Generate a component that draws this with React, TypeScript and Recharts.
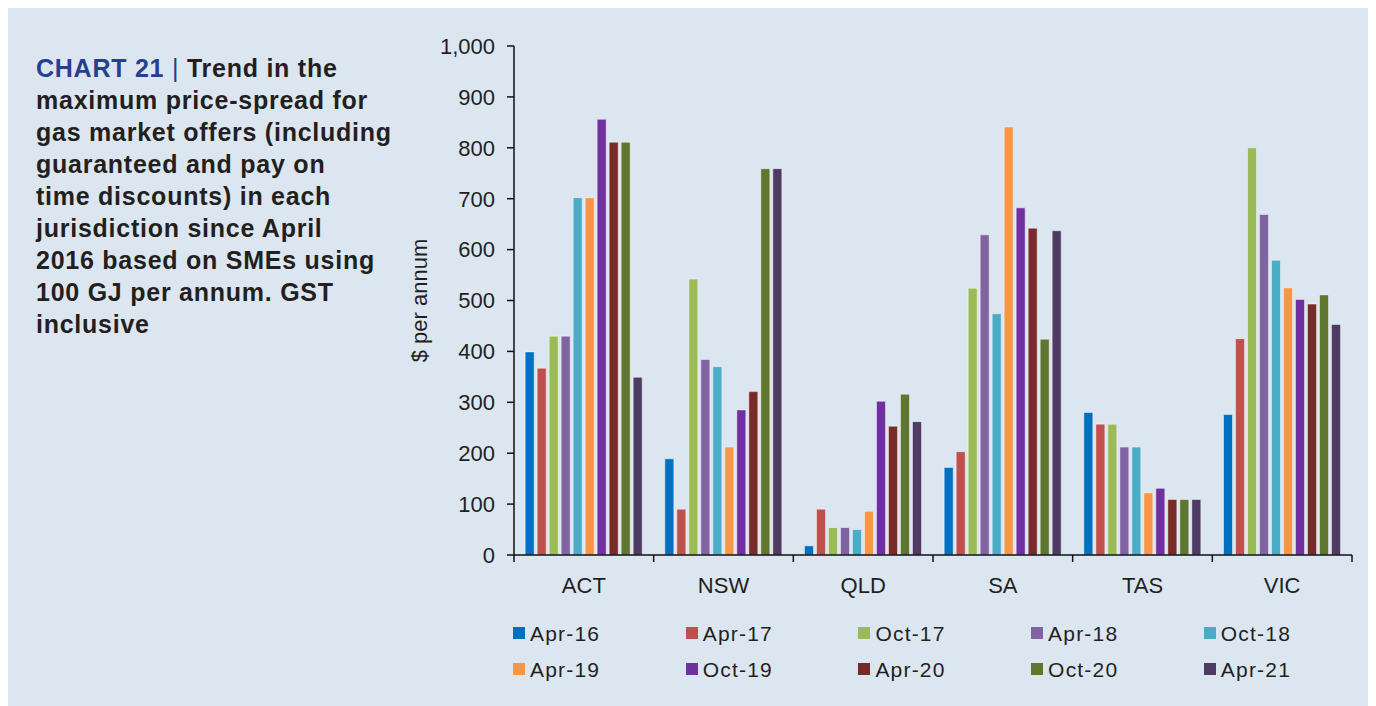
import { BarChart, Bar, XAxis, YAxis } from "recharts";

const STATES = ["ACT", "NSW", "QLD", "SA", "TAS", "VIC"];

const PERIODS = [
  "Apr-16",
  "Apr-17",
  "Oct-17",
  "Apr-18",
  "Oct-18",
  "Apr-19",
  "Oct-19",
  "Apr-20",
  "Oct-20",
  "Apr-21",
];

// one list per period, values in STATES order ($ per annum)
const APR_16 = [399, 189, 18, 172, 280, 276];
const APR_17 = [367, 90, 90, 203, 257, 425];
const OCT_17 = [430, 542, 54, 524, 257, 800];
const APR_18 = [430, 384, 54, 629, 212, 669];
const OCT_18 = [702, 370, 50, 474, 212, 579];
const APR_19 = [702, 212, 86, 841, 122, 525];
const OCT_19 = [856, 285, 302, 682, 131, 502];
const APR_20 = [811, 321, 253, 642, 109, 493];
const OCT_20 = [811, 759, 316, 424, 109, 511];
const APR_21 = [349, 759, 262, 637, 109, 453];

const Y_TICKS = [0, 100, 200, 300, 400, 500, 600, 700, 800, 900, 1000];

const SERIES_VALUES = [
  APR_16, APR_17, OCT_17, APR_18, OCT_18,
  APR_19, OCT_19, APR_20, OCT_20, APR_21,
];

const COLORS = [
  "#0070c0",
  "#c0504d",
  "#9bbb59",
  "#8064a2",
  "#4bacc6",
  "#f79646",
  "#7030a0",
  "#772c2a",
  "#5f7530",
  "#4d3b62",
];

const TITLE_LINES = [
  "maximum price-spread for",
  "gas market offers (including",
  "guaranteed and pay on",
  "time discounts) in each",
  "jurisdiction since April",
  "2016 based on SMEs using",
  "100 GJ per annum. GST",
  "inclusive",
];

const data = STATES.map((state, i) => {
  const row: Record<string, string | number> = { state };
  PERIODS.forEach((p, j) => {
    row[p] = SERIES_VALUES[j][i];
  });
  return row;
});

const FONT = '"Liberation Sans", Arial, Helvetica, sans-serif';
const INK = "#231f20";
const CHART_W = 1364;
const CHART_H = 698;
const Y_AXIS_W = 100;
const MARGIN = { top: 38, right: 20, left: 406, bottom: 111 };
const PLOT_W = CHART_W - MARGIN.left - Y_AXIS_W - MARGIN.right;
const AXIS_Y = CHART_H - MARGIN.bottom - 40;
const BAND = PLOT_W / STATES.length;

function StateTick(props: any) {
  const { x, payload, index } = props;
  const left = x - BAND / 2;
  return (
    <g>
      <line x1={left} x2={left} y1={AXIS_Y} y2={AXIS_Y + 7} stroke="#111" strokeWidth={1.5} />
      {index === STATES.length - 1 && (
        <line x1={left + BAND} x2={left + BAND} y1={AXIS_Y} y2={AXIS_Y + 7} stroke="#111" strokeWidth={1.5} />
      )}
      <text x={x} y={AXIS_Y + 38} textAnchor="middle" fill={INK} fontSize={22} fontFamily={FONT}>
        {payload.value}
      </text>
    </g>
  );
}

function YLabel(props: any) {
  const vb = props.viewBox || {};
  const cx = 419;
  const cy = (vb.y ?? MARGIN.top) + (vb.height ?? AXIS_Y - MARGIN.top) / 2;
  return (
    <text
      x={cx}
      y={cy}
      transform={`rotate(-90, ${cx}, ${cy})`}
      textAnchor="middle"
      fill={INK}
      fontSize={22}
      fontFamily={FONT}
    >
      $ per annum
    </text>
  );
}

export default function App() {
  return (
    <div
      style={{
        position: "relative",
        width: CHART_W,
        height: CHART_H,
        background: "#dce6f0",
        fontFamily: FONT,
      }}
    >
      <style>{"body{overflow:hidden}"}</style>
      <div
        style={{
          position: "absolute",
          left: 28,
          top: 44,
          fontSize: 25,
          lineHeight: "32px",
          fontWeight: 700,
          letterSpacing: 0.75,
          color: INK,
          whiteSpace: "nowrap",
        }}
      >
        <div>
          <span style={{ color: "#263f8f" }}>CHART 21 </span>
          <span style={{ color: "#263f8f", fontWeight: 400 }}>|</span> Trend in the
        </div>
        {TITLE_LINES.map((l) => (
          <div key={l}>{l}</div>
        ))}
      </div>

      <div style={{ position: "absolute", left: 0, top: 0 }}>
        <BarChart
          width={CHART_W}
          height={CHART_H}
          data={data}
          margin={MARGIN}
          barGap={3}
          barCategoryGap="8%"
        >
          <XAxis
            dataKey="state"
            height={40}
            axisLine={{ stroke: "#111", strokeWidth: 1.5 }}
            tickLine={false}
            tick={<StateTick />}
            interval={0}
          />
          <YAxis
            width={Y_AXIS_W}
            domain={[0, 1000]}
            ticks={Y_TICKS}
            tickFormatter={(v: number) => v.toLocaleString("en-US")}
            axisLine={{ stroke: "#111", strokeWidth: 1.5 }}
            tickLine={{ stroke: "#111", strokeWidth: 1.5 }}
            tickSize={7}
            tickMargin={12}
            tick={{ fill: INK, fontSize: 22, fontFamily: FONT }}
            label={<YLabel />}
          />
          {PERIODS.map((p, i) => (
            <Bar
              key={p}
              dataKey={p}
              fill={COLORS[i]}
              stroke="rgba(255,255,255,0.45)"
              strokeWidth={1}
              isAnimationActive={false}
            />
          ))}
        </BarChart>
      </div>

      {PERIODS.map((p, i) => (
        <div
          key={p}
          style={{
            position: "absolute",
            left: 505 + (i % 5) * 172.7,
            top: 619 + Math.floor(i / 5) * 36,
            height: 12,
            display: "flex",
            alignItems: "center",
            fontSize: 21,
            letterSpacing: 1.2,
            color: INK,
            whiteSpace: "nowrap",
          }}
        >
          <span style={{ width: 12, height: 12, background: COLORS[i], marginRight: 5, flex: "none" }} />
          <span style={{ position: "relative", top: 1 }}>{p}</span>
        </div>
      ))}
    </div>
  );
}
